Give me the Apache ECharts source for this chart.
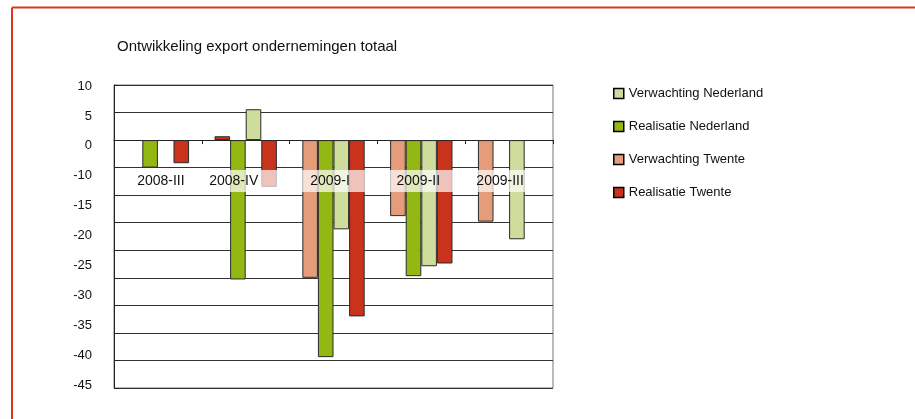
<!DOCTYPE html>
<html>
<head>
<meta charset="utf-8">
<script src="https://cdn.jsdelivr.net/npm/echarts@6/dist/echarts.min.js"></script>
<style>
  html, body { margin: 0; padding: 0; background: #fff; }
  #chart { width: 915px; height: 419px; }
</style>
</head>
<body>
<div id="chart"></div>
<script>
// Quarter categories
const categories = ['2008-III', '2008-IV', '2009-I', '2009-II', '2009-III'];

// Series values (percent), null where no bar is drawn
const verwachtingTwente    = [null, 0.7, -25.0, -13.8, -14.8];
const realisatieNederland  = [-5.0, -25.3, -39.4, -24.7, null];
const verwachtingNederland = [null, 5.6, -16.2, -22.9, -18.0];
const realisatieTwente     = [-4.2, -8.5, -32.0, -22.4, null];

// Labels printed along the value axis
const yTickLabels = ['10', '5', '0', '-10', '-15', '-20', '-25', '-30', '-35', '-40', '-45'];

const titleText = 'Ontwikkeling export ondernemingen totaal';

// ---- styling ----
const FONT = 'Liberation Sans, Arial, sans-serif';
const colors = {
  'Verwachting Nederland': '#cedd9c',
  'Realisatie Nederland': '#93b713',
  'Verwachting Twente': '#e49c7b',
  'Realisatie Twente': '#c9331b'
};
// single bars drawn in a different fill
const pointOverrides = { 'Verwachting Twente': { 1: '#c9331b' } };
// per-label box padding [top, right, bottom, left] for the quarter labels
const labelPads = [
  [3, 8, 3, 14],
  [3, 26, 3, 2],
  [3, 15, 3, 8],
  [3, 14, 3, 8],
  [3, 20, 3, 2]
];

const seriesDefs = [
  ['Verwachting Twente', verwachtingTwente],
  ['Realisatie Nederland', realisatieNederland],
  ['Verwachting Nederland', verwachtingNederland],
  ['Realisatie Twente', realisatieTwente]
];

const YMIN = -45, YMAX = 10;
const GRID = { left: 114, top: 85, width: 439, height: 303 };
// y pixel of the zero line inside the plot
const zeroY = GRID.top + GRID.height * (YMAX / (YMAX - YMIN));

const series = seriesDefs.map(([name, values]) => ({
  name,
  type: 'bar',
  xAxisIndex: 0,
  yAxisIndex: 0,
  barGap: '0%',
  barCategoryGap: '29%',
  data: values.map((v, i) => {
    const o = pointOverrides[name] && pointOverrides[name][i];
    return o ? { value: v, itemStyle: { color: o } } : v;
  }),
  itemStyle: { color: colors[name], borderColor: '#2a2a2a', borderWidth: 1 }
}));

const noBounds = { outerBoundsMode: 'none', containLabel: false };

const option = {
  animation: false,
  backgroundColor: '#fff',
  title: {
    text: titleText,
    left: 112,
    top: 34,
    textStyle: { fontFamily: FONT, fontSize: 15, fontWeight: 'normal', color: '#111' }
  },
  legend: {
    orient: 'vertical',
    left: 608,
    top: 81.5,
    itemWidth: 10,
    itemHeight: 10,
    itemGap: 19,
    icon: 'rect',
    data: ['Verwachting Nederland', 'Realisatie Nederland', 'Verwachting Twente', 'Realisatie Twente'],
    itemStyle: { borderColor: '#000', borderWidth: 1.5 },
    textStyle: { fontFamily: FONT, fontSize: 13, color: '#111', lineHeight: 14 }
  },
  grid: [
    // plot area with bars
    Object.assign({ show: true, borderColor: '#777', borderWidth: 1, backgroundColor: 'transparent' }, GRID, noBounds),
    // value-axis label column
    Object.assign({ left: GRID.left, top: 86, width: GRID.width, height: 299.5 }, noBounds),
    // category labels hung below the zero line
    Object.assign({ left: GRID.left, top: GRID.top, width: GRID.width, height: zeroY - GRID.top }, noBounds)
  ],
  xAxis: [
    {
      type: 'category',
      gridIndex: 0,
      data: categories,
      axisLine: { onZero: true, lineStyle: { color: '#222', width: 1 } },
      axisTick: { show: true, length: 4, lineStyle: { color: '#222' } },
      axisLabel: { show: false },
      splitLine: { show: false }
    },
    { type: 'value', gridIndex: 1, show: false },
    {
      type: 'category',
      gridIndex: 2,
      data: categories.map((c, i) => ({ value: c, textStyle: { padding: labelPads[i] } })),
      z: 6,
      axisLine: { show: false },
      axisTick: { show: false },
      splitLine: { show: false },
      axisLabel: {
        margin: 30,
        fontFamily: FONT,
        fontSize: 14,
        color: '#111',
        lineHeight: 16,
        backgroundColor: 'rgba(255,255,255,0.7)'
      }
    }
  ],
  yAxis: [
    {
      type: 'value',
      gridIndex: 0,
      min: YMIN,
      max: YMAX,
      interval: 5,
      axisLine: { show: true, lineStyle: { color: '#222' } },
      axisTick: { show: true, inside: true, length: 5, lineStyle: { color: '#222' } },
      axisLabel: { show: false },
      splitLine: { show: true, lineStyle: { color: '#333', width: 1 } }
    },
    {
      type: 'category',
      gridIndex: 1,
      boundaryGap: false,
      data: yTickLabels.slice().reverse(),
      axisLine: { show: false },
      axisTick: { show: false },
      splitLine: { show: false },
      axisLabel: { margin: 22, fontFamily: FONT, fontSize: 13, color: '#111' }
    },
    { type: 'value', gridIndex: 2, show: false, min: 0, max: 1 }
  ],
  graphic: [
    { type: 'line', shape: { x1: 12, y1: 7.5, x2: 915, y2: 7.5 }, style: { stroke: '#d8391d', lineWidth: 2 } },
    { type: 'line', shape: { x1: 12, y1: 7.5, x2: 12, y2: 419 }, style: { stroke: '#d8391d', lineWidth: 2 } }
  ],
  series
};

const chart = echarts.init(document.getElementById('chart'), null, { renderer: 'canvas' });
chart.setOption(option);
</script>
</body>
</html>
